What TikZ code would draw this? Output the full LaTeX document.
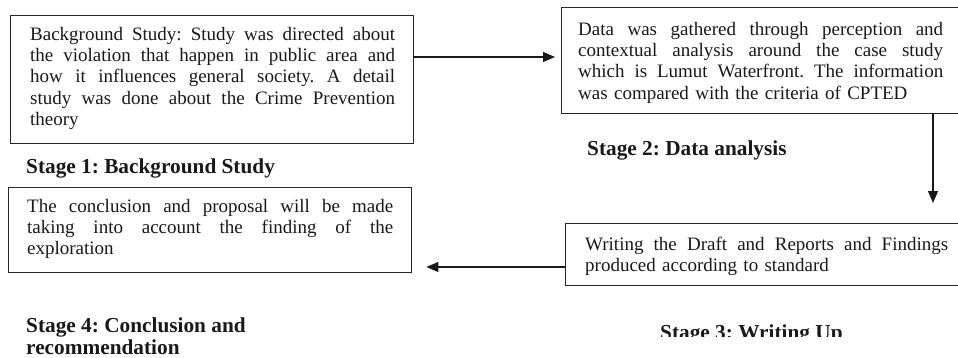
\documentclass[tikz,border=0pt]{standalone}
\usepackage{fontspec}
\setmainfont{Liberation Serif}
\usetikzlibrary{arrows.meta}
\frenchspacing
\newcommand{\jl}[2][365pt]{\leavevmode\hbox to #1{\spaceskip=0.25em plus 1fil minus 0.05em\relax #2}\par}
\begin{document}
\begin{tikzpicture}[x=1pt,y=-1pt,
  stagebox/.style={draw=black!85, line width=1.4pt, inner sep=0pt, anchor=north west},
  bodytext/.style={font=\fontsize{19}{21.4}\selectfont, text=black!90, inner sep=0pt, anchor=base west},
  stagelabel/.style={font=\fontsize{21.3}{22}\selectfont\bfseries, text=black!90, inner sep=0pt, anchor=base west, align=left},
  arr/.style={draw=black!90, line width=1.2pt, -{Triangle[length=12pt,width=10pt]}}]
\useasboundingbox (0,0) rectangle (958,357);
% boxes
\node[stagebox, minimum width=403pt, minimum height=128pt] (b1) at (10,15) {};
\node[stagebox, minimum width=414pt, minimum height=106pt] (b2) at (561,7) {};
\node[stagebox, minimum width=410pt, minimum height=62pt] (b3) at (565,223) {};
\node[stagebox, minimum width=403pt, minimum height=85pt] (b4) at (8,187) {};
% texts
\node[bodytext, text width=365pt] (t1) at (30,40) {%
\jl{Background Study: Study was directed about}%
\jl{the violation that happen in public area and}%
\jl{how it influences general society. A detail}%
\jl{study was done about the Crime Prevention}%
theory};
\node[bodytext, text width=365pt] (t2) at (578,35) {%
\jl{Data was gathered through perception and}%
\jl{contextual analysis around the case study}%
\jl{which is Lumut Waterfront. The information}%
was compared with the criteria of CPTED};
\node[bodytext, text width=363pt] (t3) at (585,250) {%
\jl[363pt]{Writing the Draft and Reports and Findings}%
produced according to standard};
\node[bodytext, text width=366pt] (t4) at (27,212) {%
\jl[366pt]{The conclusion and proposal will be made}%
\jl[366pt]{taking into account the finding of the}%
exploration};
% labels
\node[stagelabel] (l1) at (26,173) {Stage 1: Background Study};
\node[stagelabel] (l2) at (587,155) {Stage 2: Data analysis};
\begin{scope}
\clip (600,300) rectangle (900,336);
\node[stagelabel] (l3) at (660,339) {Stage 3: Writing Up};
\end{scope}
\node[stagelabel] (l4) at (26,354) {Stage 4: Conclusion and\\recommendation};
% connectors
\coordinate (c1) at (0,57);
\coordinate (c2) at (933,0);
\coordinate (c3) at (0,267);
\draw[arr, shorten >=6pt] (c1 -| b1.east) -- (c1 -| b2.west);
\draw[arr, shorten >=20pt] (c2 |- b2.south) -- (c2 |- b3.north);
\draw[arr, shorten >=14pt] (c3 -| b3.west) -- (c3 -| b4.east);
\end{tikzpicture}
\end{document}
